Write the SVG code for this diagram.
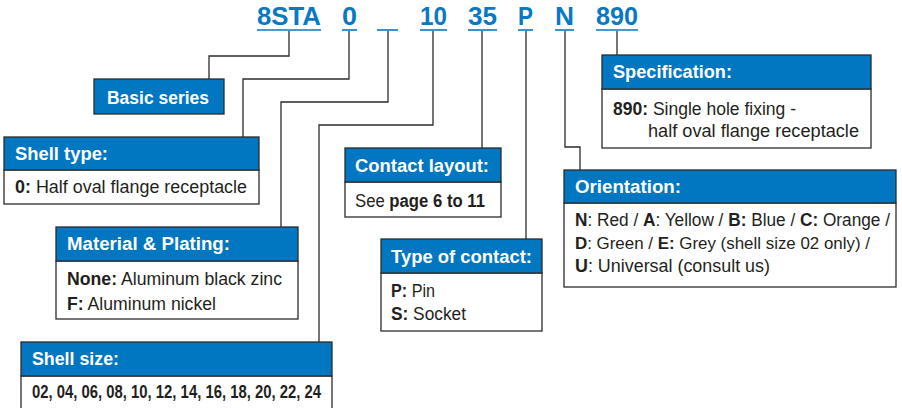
<svg xmlns="http://www.w3.org/2000/svg" width="902" height="408" viewBox="0 0 902 408">
<style>
.code{font-family:"Liberation Sans",Arial,sans-serif;font-weight:bold;font-size:25px;fill:#0a78c2}
.ul{stroke:#0a78c2;stroke-width:1.6}
.hdr{fill:#0077c0;stroke:#2b2b2b;stroke-width:1.3}
.body{fill:#ffffff;stroke:#2b2b2b;stroke-width:1.3}
.ht{font-family:"Liberation Sans Narrow","Liberation Sans",Arial,sans-serif;font-weight:bold;font-size:17.5px;fill:#ffffff}
.bt{font-family:"Liberation Sans Narrow","Liberation Sans",Arial,sans-serif;font-size:17.5px;fill:#231f20}
.sm{font-size:16.8px}
.b{font-weight:bold}
.con{fill:none;stroke:#2b2b2b;stroke-width:1.3}
</style>
<rect width="902" height="408" fill="#ffffff"/>
<g id="code">
<text class="code" x="257" y="25" textLength="64" lengthAdjust="spacingAndGlyphs">8STA</text>
<line class="ul" x1="257" y1="30" x2="321" y2="30"/>
<text class="code" x="342" y="25" textLength="15" lengthAdjust="spacingAndGlyphs">0</text>
<line class="ul" x1="342" y1="30" x2="357" y2="30"/>
<line class="ul" x1="377" y1="30" x2="398" y2="30"/>
<text class="code" x="420" y="25" textLength="27" lengthAdjust="spacingAndGlyphs">10</text>
<line class="ul" x1="420" y1="30" x2="447" y2="30"/>
<text class="code" x="468" y="25" textLength="29" lengthAdjust="spacingAndGlyphs">35</text>
<line class="ul" x1="468" y1="30" x2="497" y2="30"/>
<text class="code" x="518" y="25" textLength="15" lengthAdjust="spacingAndGlyphs">P</text>
<line class="ul" x1="518" y1="30" x2="533" y2="30"/>
<text class="code" x="555" y="25" textLength="19" lengthAdjust="spacingAndGlyphs">N</text>
<line class="ul" x1="555" y1="30" x2="574" y2="30"/>
<text class="code" x="596" y="25" textLength="42" lengthAdjust="spacingAndGlyphs">890</text>
<line class="ul" x1="596" y1="30" x2="638" y2="30"/>
</g>
<g id="connectors">
<polyline class="con" points="289,31 289,56 209,56 209,79"/>
<polyline class="con" points="349,31 349,79 243,79 243,137"/>
<polyline class="con" points="388,31 388,102 281,102 281,227"/>
<polyline class="con" points="433,31 433,125 319,125 319,342"/>
<polyline class="con" points="482,31 482,148"/>
<polyline class="con" points="526,31 526,239"/>
<polyline class="con" points="565,31 565,147 580,147 580,170"/>
<polyline class="con" points="617,31 617,55"/>
</g>
<g id="basic-series">
<rect class="hdr" x="94" y="79" width="130" height="35"/>
<text class="ht" x="107" y="104" textLength="102" lengthAdjust="spacingAndGlyphs">Basic series</text>
</g>
<g id="shell-type">
<rect class="body" x="4" y="170" width="255" height="34"/>
<rect class="hdr" x="4" y="137" width="255" height="33"/>
<text class="ht" x="15" y="160" textLength="93" lengthAdjust="spacingAndGlyphs">Shell type:</text>
<text class="bt" x="15" y="193" textLength="232" lengthAdjust="spacingAndGlyphs"><tspan class="b">0:</tspan> Half oval flange receptacle</text>
</g>
<g id="material-plating">
<rect class="body" x="56" y="261" width="242" height="58"/>
<rect class="hdr" x="56" y="227" width="242" height="34"/>
<text class="ht" x="67" y="250" textLength="163" lengthAdjust="spacingAndGlyphs">Material &amp; Plating:</text>
<text class="bt" x="67" y="285" textLength="215" lengthAdjust="spacingAndGlyphs"><tspan class="b">None:</tspan> Aluminum black zinc</text>
<text class="bt" x="67" y="310" textLength="149" lengthAdjust="spacingAndGlyphs"><tspan class="b">F:</tspan> Aluminum nickel</text>
</g>
<g id="shell-size">
<rect class="body" x="21" y="376" width="311" height="40"/>
<rect class="hdr" x="21" y="342" width="311" height="34"/>
<text class="ht" x="32" y="365" textLength="87" lengthAdjust="spacingAndGlyphs">Shell size:</text>
<text class="bt b" x="32" y="398" textLength="289" lengthAdjust="spacingAndGlyphs">02, 04, 06, 08, 10, 12, 14, 16, 18, 20, 22, 24</text>
</g>
<g id="contact-layout">
<rect class="body" x="345" y="182" width="156" height="35"/>
<rect class="hdr" x="345" y="148" width="156" height="34"/>
<text class="ht" x="355" y="172" textLength="134" lengthAdjust="spacingAndGlyphs">Contact layout:</text>
<text class="bt" x="355" y="207" textLength="130" lengthAdjust="spacingAndGlyphs">See <tspan class="b">page 6 to 11</tspan></text>
</g>
<g id="type-of-contact">
<rect class="body" x="381" y="273" width="161" height="58"/>
<rect class="hdr" x="381" y="239" width="161" height="34"/>
<text class="ht" x="391" y="263" textLength="141" lengthAdjust="spacingAndGlyphs">Type of contact:</text>
<text class="bt" x="391" y="297" textLength="44" lengthAdjust="spacingAndGlyphs"><tspan class="b">P:</tspan> Pin</text>
<text class="bt" x="391" y="320" textLength="75" lengthAdjust="spacingAndGlyphs"><tspan class="b">S:</tspan> Socket</text>
</g>
<g id="specification">
<rect class="body" x="602" y="89" width="269" height="59"/>
<rect class="hdr" x="602" y="55" width="269" height="34"/>
<text class="ht" x="613" y="78" textLength="119" lengthAdjust="spacingAndGlyphs">Specification:</text>
<text class="bt" x="613" y="115" textLength="183" lengthAdjust="spacingAndGlyphs"><tspan class="b">890:</tspan> Single hole fixing -</text>
<text class="bt" x="648" y="137" textLength="211" lengthAdjust="spacingAndGlyphs">half oval flange receptacle</text>
</g>
<g id="orientation">
<rect class="body" x="564" y="203" width="332" height="84"/>
<rect class="hdr" x="564" y="170" width="332" height="33"/>
<text class="ht" x="575" y="193" textLength="106" lengthAdjust="spacingAndGlyphs">Orientation:</text>
<text class="bt" x="575" y="226" textLength="315" lengthAdjust="spacingAndGlyphs"><tspan class="b">N</tspan>: Red / <tspan class="b">A</tspan>: Yellow / <tspan class="b">B:</tspan> Blue / <tspan class="b">C:</tspan> Orange /</text>
<text class="bt sm" x="575" y="249" textLength="295" lengthAdjust="spacingAndGlyphs"><tspan class="b">D</tspan>: Green / <tspan class="b">E:</tspan> Grey (shell size 02 only) /</text>
<text class="bt" x="575" y="272" textLength="195" lengthAdjust="spacingAndGlyphs"><tspan class="b">U</tspan>: Universal (consult us)</text>
</g>
</svg>
